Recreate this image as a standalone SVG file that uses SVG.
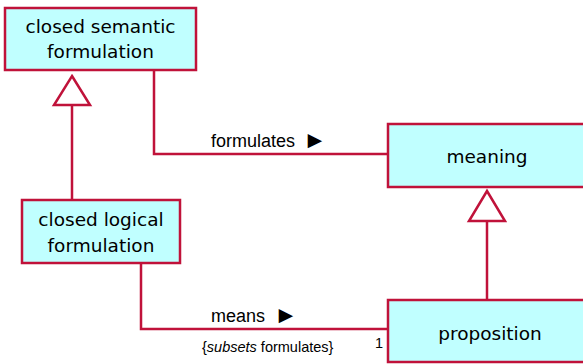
<svg xmlns="http://www.w3.org/2000/svg" width="583" height="364" viewBox="0 0 583 364">
<style>
.box{fill:#c0ffff;stroke:#c0123a;stroke-width:2.5}
.ln{fill:none;stroke:#c0123a;stroke-width:2.5}
.tri{fill:#ffffff;stroke:#c0123a;stroke-width:2.5;stroke-linejoin:miter}
.nt{font-family:"DejaVu Sans",Verdana,sans-serif;font-size:18.5px;fill:#000;text-anchor:middle}
.lb{font-family:"Liberation Sans",Arial,sans-serif;font-size:18px;fill:#000}
.ar{font-family:"Liberation Sans","DejaVu Sans",sans-serif;font-size:24px;fill:#000}
.sm{font-family:"Liberation Sans",Arial,sans-serif;font-size:14.5px;fill:#000}
</style>
<rect width="583" height="364" fill="#ffffff"/>
<g id="connectors">
<line class="ln" x1="72" y1="200" x2="72" y2="104"/>
<polygon class="tri" points="72,76 90,105 54,105"/>
<polyline class="ln" points="154,70 154,154 388,154"/>
<line class="ln" x1="487" y1="300" x2="487" y2="221"/>
<polygon class="tri" points="487,191 505,221 469,221"/>
<polyline class="ln" points="141,263 141,329 388,329"/>
<text class="lb" x="211" y="147">formulates</text>
<text class="ar" x="303" y="148">►</text>
<text class="lb" x="211" y="322">means</text>
<text class="ar" x="274" y="323">►</text>
<text class="sm" x="202" y="352">{<tspan font-style="italic">subsets</tspan> formulates}</text>
<text class="sm" x="375" y="348">1</text>
</g>
<g id="closed-semantic-formulation">
<rect class="box" x="5" y="8" width="191" height="62"/>
<text class="nt" x="100.5" y="33">closed semantic</text>
<text class="nt" x="100.5" y="58">formulation</text>
</g>
<g id="closed-logical-formulation">
<rect class="box" x="22" y="200" width="158" height="63"/>
<text class="nt" x="101" y="226">closed logical</text>
<text class="nt" x="101" y="252">formulation</text>
</g>
<g id="meaning">
<rect class="box" x="388" y="124" width="200" height="63"/>
<text class="nt" x="487" y="163">meaning</text>
</g>
<g id="proposition">
<rect class="box" x="388" y="300" width="200" height="62"/>
<text class="nt" x="490" y="340">proposition</text>
</g>
</svg>
